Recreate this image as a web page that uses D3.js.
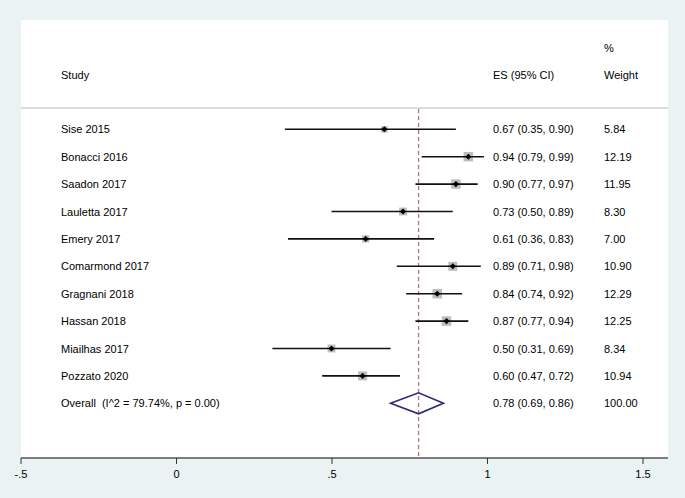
<!DOCTYPE html>
<html>
<head>
<meta charset="utf-8">
<script src="https://cdn.jsdelivr.net/npm/d3@7"></script>
<style>
  html, body { margin: 0; padding: 0; background: #eaf2f3; }
  svg { display: block; }
  text { font-family: "Liberation Sans", Arial, sans-serif; font-size: 11px; fill: #000; white-space: pre; }
</style>
</head>
<body>
<svg id="chart" width="685" height="498"></svg>
<script>
const studies = ["Sise 2015", "Bonacci 2016", "Saadon 2017", "Lauletta 2017", "Emery 2017",
  "Comarmond 2017", "Gragnani 2018", "Hassan 2018", "Miailhas 2017", "Pozzato 2020"];
const es = [0.67, 0.94, 0.90, 0.73, 0.61, 0.89, 0.84, 0.87, 0.50, 0.60];
const lo = [0.35, 0.79, 0.77, 0.50, 0.36, 0.71, 0.74, 0.77, 0.31, 0.47];
const hi = [0.90, 0.99, 0.97, 0.89, 0.83, 0.98, 0.92, 0.94, 0.69, 0.72];
const weights = [5.84, 12.19, 11.95, 8.30, 7.00, 10.90, 12.29, 12.25, 8.34, 10.94];
const overall = { label: "Overall  (I^2 = 79.74%, p = 0.00)", es: 0.78, lo: 0.69, hi: 0.86, weight: 100.00 };
const xTicks = [-0.5, 0, 0.5, 1, 1.5];
const xTickLabels = ["-.5", "0", ".5", "1", "1.5"];

const svg = d3.select("#chart");
const W = 685, H = 498;
const panel = { left: 21, right: 668, top: 20, bottom: 458 };

svg.append("rect").attr("width", W).attr("height", H).attr("fill", "#eaf2f3");
svg.append("rect")
  .attr("x", panel.left).attr("y", panel.top)
  .attr("width", panel.right - panel.left).attr("height", panel.bottom - panel.top)
  .attr("fill", "#fff");

const x = d3.scaleLinear().domain([-0.5, 1.5]).range([20.5, 642.5]);
const rows = studies.map((s, i) => i).concat([studies.length]);
const y = d3.scalePoint().domain(rows).range([129.3, 403.3]);

// header
const colStudy = 61, colES = 493, colW = 604;
svg.append("text").attr("x", colStudy).attr("y", 79).text("Study");
svg.append("text").attr("x", colES).attr("y", 79).text("ES (95% CI)");
svg.append("text").attr("x", colW).attr("y", 52).text("%");
svg.append("text").attr("x", colW).attr("y", 79).text("Weight");

// separator
svg.append("line").attr("x1", panel.left).attr("x2", panel.right)
  .attr("y1", 108).attr("y2", 108).attr("stroke", "#cfcfcf").attr("stroke-width", 1.5);

// overall dashed line
svg.append("line")
  .attr("x1", x(overall.es)).attr("x2", x(overall.es))
  .attr("y1", 109).attr("y2", panel.bottom)
  .attr("stroke", "#b5727c").attr("stroke-width", 1.3).attr("stroke-dasharray", "4,3");

// study rows
const g = svg.append("g");
studies.forEach((s, i) => {
  const yy = y(i);
  const side = 2.72 * Math.sqrt(weights[i]);
  g.append("rect")
    .attr("x", x(es[i]) - side / 2).attr("y", yy - side / 2)
    .attr("width", side).attr("height", side).attr("fill", "#bdbdbd");
  g.append("line")
    .attr("x1", x(lo[i])).attr("x2", x(hi[i]))
    .attr("y1", yy).attr("y2", yy)
    .attr("stroke", "#111").attr("stroke-width", 1.6);
  g.append("path")
    .attr("d", d3.symbol(d3.symbolDiamond2, 24)())
    .attr("transform", `translate(${x(es[i])},${yy})`)
    .attr("fill", "#000");
  g.append("text").attr("x", colStudy).attr("y", yy + 4).text(s);
  g.append("text").attr("x", colES).attr("y", yy + 4)
    .text(`${es[i].toFixed(2)} (${lo[i].toFixed(2)}, ${hi[i].toFixed(2)})`);
  g.append("text").attr("x", colW).attr("y", yy + 4).text(weights[i].toFixed(2));
});

// overall
const yo = y(studies.length);
const dh = 10.5;
svg.append("path")
  .attr("d", `M${x(overall.lo)},${yo} L${x(overall.es)},${yo - dh} L${x(overall.hi)},${yo} L${x(overall.es)},${yo + dh} Z`)
  .attr("fill", "none").attr("stroke", "#2b2878").attr("stroke-width", 1.6);
svg.append("text").attr("x", colStudy).attr("y", yo + 4).attr("xml:space", "preserve").text(overall.label);
svg.append("text").attr("x", colES).attr("y", yo + 4)
  .text(`${overall.es.toFixed(2)} (${overall.lo.toFixed(2)}, ${overall.hi.toFixed(2)})`);
svg.append("text").attr("x", colW).attr("y", yo + 4).text(overall.weight.toFixed(2));

// axis
const axisG = svg.append("g").attr("transform", `translate(0,${panel.bottom})`);
axisG.append("line").attr("x1", panel.left).attr("x2", panel.right)
  .attr("y1", 0).attr("y2", 0).attr("stroke", "#555").attr("stroke-width", 1.5);
const axis = d3.axisBottom(x).tickValues(xTicks).tickSize(6).tickPadding(6)
  .tickFormat((d, i) => xTickLabels[i]);
axisG.call(axis);
axisG.select(".domain").remove();
axisG.selectAll(".tick line").attr("stroke", "#333").attr("stroke-width", 1);
axisG.selectAll(".tick text").attr("font-family", "Liberation Sans, Arial, sans-serif")
  .attr("font-size", 11).attr("fill", "#000");
</script>
</body>
</html>
